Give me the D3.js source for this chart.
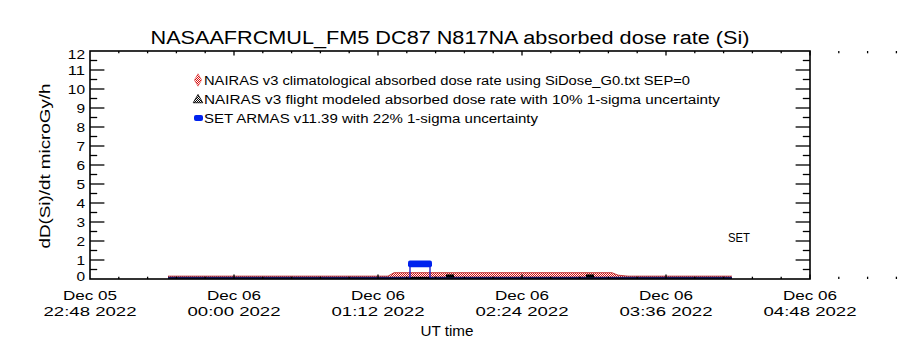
<!DOCTYPE html>
<html><head><meta charset="utf-8">
<script src="https://cdn.jsdelivr.net/npm/d3@7"></script>
<style>html,body{margin:0;padding:0;background:#fff;} text{font-family:"Liberation Sans",Arial,sans-serif;fill:#000;}</style>
</head><body><svg id="c" width="900" height="350"></svg>
<script>
// ---- data (UT times on Dec 05/06 2022) ----
const titleText = "NASAAFRCMUL_FM5 DC87 N817NA absorbed dose rate (Si)";
const yTicks = [0,1,2,3,4,5,6,7,8,9,10,11,12];
const xTickTimes = ["22:48","00:00","01:12","02:24","03:36","04:48"];
const xTickDays = ["Dec 05","Dec 06","Dec 06","Dec 06","Dec 06","Dec 06"];
// NAIRAS climatological absorbed dose rate
const climTimes = ["23:27","00:00","00:40","01:17","01:20","02:00","02:40","03:09","03:12","03:17","03:40","04:09"];
const climValues = [0.15,0.15,0.15,0.15,0.33,0.33,0.33,0.33,0.20,0.15,0.15,0.15];
// NAIRAS flight modeled absorbed dose rate
const flightTimes = ["23:27","00:40","01:28","01:48","02:58","03:40","04:09"];
const flightValues = [0.06,0.06,0.06,0.06,0.06,0.06,0.06];
const flightMarkTimes = ["01:48","02:58"];
const flightMarkValues = [0.16,0.16];
// SET ARMAS measurement
const setTimes = ["01:28","01:38"];
const setValues = [0.80,0.80];
const setUnc = 0.22;
const legendLabels = [
  "NAIRAS v3 climatological absorbed dose rate using SiDose_G0.txt SEP=0",
  "NAIRAS v3 flight modeled absorbed dose rate with 10% 1-sigma uncertainty",
  "SET ARMAS v11.39 with 22% 1-sigma uncertainty"
];

function toDate(s){
  const [h,m] = s.split(":").map(Number);
  return new Date(Date.UTC(2022,11, h>=20?5:6, h, m));
}

const svg = d3.select("#c");
const L=90,R=810,T=51,B=279;
const x = d3.scaleTime().domain([toDate("22:48"), toDate("04:48")]).range([L,R]);
const y = d3.scaleLinear().domain([0,12]).range([B,T]);

const defs = svg.append("defs");
const pat = defs.append("pattern").attr("id","chk").attr("width",2).attr("height",2).attr("patternUnits","userSpaceOnUse");
pat.append("rect").attr("width",2).attr("height",2).attr("fill","#fff");
pat.append("rect").attr("width",1).attr("height",1).attr("fill","#d81010");
pat.append("rect").attr("x",1).attr("y",1).attr("width",1).attr("height",1).attr("fill","#d81010");
const pat2 = defs.append("pattern").attr("id","hat").attr("width",2).attr("height",2).attr("patternUnits","userSpaceOnUse");
pat2.append("rect").attr("width",2).attr("height",2).attr("fill","#fff");
pat2.append("rect").attr("width",1).attr("height",1).attr("fill","#000");
pat2.append("rect").attr("x",1).attr("y",1).attr("width",1).attr("height",1).attr("fill","#000");

// ---- data marks ----
const clim = climTimes.map((t,i)=>({t:toDate(t), v:climValues[i]}));
svg.append("path").datum(clim)
  .attr("d", d3.area().x(d=>x(d.t)).y0(y(0.04)).y1(d=>y(d.v)))
  .attr("fill","url(#chk)");
svg.append("path").datum(clim)
  .attr("d", d3.line().x(d=>x(d.t)).y(d=>y(d.v)))
  .attr("fill","none").attr("stroke","#b01010").attr("stroke-width",0.8);

const fl = flightTimes.map((t,i)=>({t:toDate(t), v:flightValues[i]}));
svg.append("path").datum(fl)
  .attr("d", d3.line().x(d=>x(d.t)).y(d=>y(d.v)))
  .attr("fill","none").attr("stroke","#14145a").attr("stroke-width",2.2);
svg.selectAll(".fm").data(flightMarkTimes).join("rect")
  .attr("x",d=>x(toDate(d))-4).attr("y",(d,i)=>y(flightMarkValues[i])-1.5)
  .attr("width",8).attr("height",3).attr("fill","#000");

// SET ARMAS
const sx0 = x(toDate(setTimes[0])), sx1 = x(toDate(setTimes[1]));
svg.append("rect").attr("x",sx0).attr("width",sx1-sx0)
  .attr("y",y(0.1)).attr("height",y(0)-y(0.1)).attr("fill","#000");
setTimes.forEach((t,i)=>{
  svg.append("line").attr("x1",x(toDate(t))).attr("x2",x(toDate(t)))
    .attr("y1",y(setValues[i])).attr("y2",y(0.05)).attr("stroke","#1010c0").attr("stroke-width",1.3);
});
svg.append("rect").attr("x",sx0-2).attr("width",sx1-sx0+4)
  .attr("y",y(setValues[0]*(1+setUnc))).attr("height",y(setValues[0]*(1-setUnc))-y(setValues[0]*(1+setUnc)))
  .attr("rx",2).attr("fill","#0022ee");

// ---- axes ----
const ax = svg.append("g").attr("stroke","#000").attr("fill","none");
ax.append("rect").attr("x",L).attr("y",T).attr("width",R-L).attr("height",B-T).attr("stroke-width",1.6);
const majT = d3.range(0,6).map(i=>d3.timeMinute.offset(toDate("22:48"),72*i));
const minT = d3.range(0,30).filter(i=>i%5).map(i=>new Date(+toDate("22:48")+i*14.4*60000));
majT.slice(1).forEach(d=>{ const xx=x(d);
  ax.append("line").attr("x1",xx).attr("x2",xx).attr("y1",B).attr("y2",B-4.6).attr("stroke-width",1.3);
  ax.append("line").attr("x1",xx).attr("x2",xx).attr("y1",T).attr("y2",T+4.6).attr("stroke-width",1.3);});
minT.forEach(d=>{ const xx=x(d);
  ax.append("line").attr("x1",xx).attr("x2",xx).attr("y1",B).attr("y2",B-2.3).attr("stroke-width",1.3);
  ax.append("line").attr("x1",xx).attr("x2",xx).attr("y1",T).attr("y2",T+2.3).attr("stroke-width",1.3);});
d3.range(0,12.5,0.5).forEach(v=>{ if(v===0||v===12) return; const yy=y(v); const len = v%1===0?14.4:7.2;
  ax.append("line").attr("x1",L).attr("x2",L+len).attr("y1",yy).attr("y2",yy).attr("stroke-width",1.3);
  ax.append("line").attr("x1",R).attr("x2",R-len).attr("y1",yy).attr("y2",yy).attr("stroke-width",1.3);});

// y tick labels
svg.selectAll(".yl").data(yTicks).join("text")
  .attr("x",85).attr("y",d=> Math.min(Math.max(y(d),54),276)+5)
  .attr("text-anchor","end").attr("font-size",13.5)
  .attr("textLength",d=>String(d).length*8.6).attr("lengthAdjust","spacingAndGlyphs").text(d=>d);

// x tick labels
xTickTimes.forEach((t,i)=>{
  const xx = x(majT[i]);
  svg.append("text").attr("x",xx).attr("y",300).attr("text-anchor","middle").attr("font-size",13.5)
    .attr("textLength",54).attr("lengthAdjust","spacingAndGlyphs").text(xTickDays[i]);
  svg.append("text").attr("x",xx).attr("y",316).attr("text-anchor","middle").attr("font-size",13.5)
    .attr("textLength",93).attr("lengthAdjust","spacingAndGlyphs").text(t+" 2022");
});
svg.append("text").attr("x",447).attr("y",336).attr("text-anchor","middle").attr("font-size",14)
  .attr("textLength",53).attr("lengthAdjust","spacingAndGlyphs").text("UT time");
svg.append("text").attr("x",50).attr("y",166).attr("transform","rotate(-90,50,166)")
  .attr("text-anchor","middle").attr("font-size",14.5)
  .attr("textLength",165).attr("lengthAdjust","spacingAndGlyphs").text("dD(Si)/dt microGy/h");
svg.append("text").attr("x",450).attr("y",44).attr("text-anchor","middle").attr("font-size",18)
  .attr("textLength",599).attr("lengthAdjust","spacingAndGlyphs").text(titleText);
svg.append("text").attr("x",728).attr("y",242).attr("font-size",13)
  .attr("textLength",22).attr("lengthAdjust","spacingAndGlyphs").text("SET");

// legend
const legY = [85,104,123], legW = [486,516,334];
legendLabels.forEach((s,i)=>{
  svg.append("text").attr("x",204).attr("y",legY[i]).attr("font-size",12.5)
    .attr("textLength",legW[i]).attr("lengthAdjust","spacingAndGlyphs").text(s);
});
svg.append("path").attr("transform","translate(198,80)").attr("d",d3.symbol(d3.symbolDiamond,45)())
  .attr("fill","url(#chk)").attr("stroke","#e04040").attr("stroke-width",0.6);
svg.append("path").attr("transform","translate(198,100)").attr("d",d3.symbol(d3.symbolTriangle,40)())
  .attr("fill","url(#hat)").attr("stroke","#000").attr("stroke-width",0.8);
svg.append("rect").attr("x",194).attr("y",115).attr("width",9).attr("height",6).attr("rx",2).attr("fill","#0022ee");
</script></body></html>
